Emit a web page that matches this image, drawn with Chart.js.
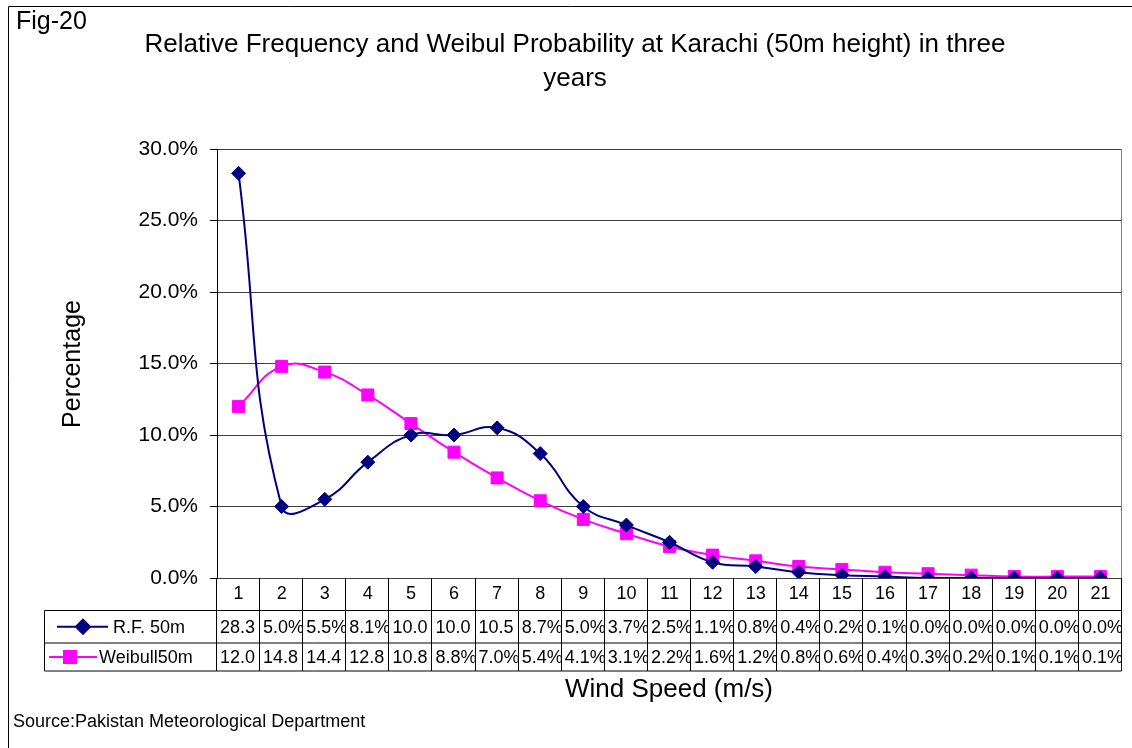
<!DOCTYPE html>
<html>
<head>
<meta charset="utf-8">
<script src="https://cdn.jsdelivr.net/npm/chart.js@4"></script>
<style>
  body { margin: 0; background: #fff; }
  #wrap { width: 1132px; height: 748px; }
</style>
</head>
<body>
<div id="wrap"><canvas id="chart" width="1132" height="748"></canvas></div>
<script>
const speeds = ['1','2','3','4','5','6','7','8','9','10','11','12','13','14','15','16','17','18','19','20','21'];
const rfValues = [28.3, 5.0, 5.5, 8.1, 10.0, 10.0, 10.5, 8.7, 5.0, 3.7, 2.5, 1.1, 0.8, 0.4, 0.2, 0.1, 0.0, 0.0, 0.0, 0.0, 0.0];
const weibullValues = [12.0, 14.8, 14.4, 12.8, 10.8, 8.8, 7.0, 5.4, 4.1, 3.1, 2.2, 1.6, 1.2, 0.8, 0.6, 0.4, 0.3, 0.2, 0.1, 0.1, 0.1];
const seriesNames = ['R.F. 50m', 'Weibull50m'];

const FONT = '"Liberation Sans", Arial, sans-serif';
const NAVY = '#000080';
const MAGENTA = '#FF00FF';

// cell text like Excel's data table: big numbers lose the % sign
function cellText(v) {
    return v >= 10 ? v.toFixed(1) : v.toFixed(1) + '%';
}

const tablePlugin = {
    id: 'dataTable',
    afterDraw(chart) {
        const c = chart.ctx;
        const area = chart.chartArea;
        const xs = chart.scales.x;
        const colW = (area.right - area.left) / speeds.length;
        const rowTop = [area.bottom, 610.5, 643, 671];
        const legendLeft = 44.5;

        c.save();

        // outer frame (left + top visible)
        c.strokeStyle = '#000';
        c.lineWidth = 1;
        c.beginPath();
        c.moveTo(8.5, 760); c.lineTo(8.5, 6.5); c.lineTo(1140, 6.5);
        c.stroke();

        // plot area right border
        c.strokeStyle = '#808080';
        c.beginPath();
        c.moveTo(Math.round(area.right) - 0.5, area.top);
        c.lineTo(Math.round(area.right) - 0.5, area.bottom);
        c.stroke();

        // table grid
        c.strokeStyle = '#000';
        c.beginPath();
        for (let i = 0; i <= speeds.length; i++) {
            const x = Math.round(area.left + i * colW) - 0.5;
            c.moveTo(x, rowTop[0]);
            c.lineTo(x, rowTop[3]);
        }
        c.moveTo(legendLeft, rowTop[1]); c.lineTo(legendLeft, rowTop[3]);
        for (let r = 1; r < rowTop.length; r++) {
            c.moveTo(legendLeft, rowTop[r]);
            c.lineTo(Math.round(area.right) - 0.5, rowTop[r]);
        }
        c.stroke();

        // header row
        c.fillStyle = '#000';
        c.font = '18px ' + FONT;
        c.textAlign = 'center';
        c.textBaseline = 'middle';
        speeds.forEach((s, i) => {
            c.fillText(s, xs.getPixelForValue(i), (rowTop[0] + rowTop[1]) / 2);
        });

        // value rows, clipped to their cells
        const rows = [rfValues, weibullValues];
        c.textAlign = 'left';
        rows.forEach((vals, r) => {
            const yMid = (rowTop[r + 1] + rowTop[r + 2]) / 2 + 1;
            vals.forEach((v, i) => {
                const x0 = area.left + i * colW;
                c.save();
                c.beginPath();
                c.rect(x0, rowTop[r + 1], colW - 1, rowTop[r + 2] - rowTop[r + 1]);
                c.clip();
                c.fillText(cellText(v), x0 + 3, yMid);
                c.restore();
            });
        });

        // legend keys in the table
        const keys = [
            { y: (rowTop[1] + rowTop[2]) / 2, x1: 57, x2: 108, mx: 83, tx: 113, color: NAVY, style: 'rectRot', radius: 7 },
            { y: (rowTop[2] + rowTop[3]) / 2, x1: 49, x2: 97, mx: 70, tx: 99, color: MAGENTA, style: 'rect', radius: 8.5 }
        ];
        keys.forEach((k, i) => {
            c.strokeStyle = k.color;
            c.lineWidth = 2;
            c.beginPath();
            c.moveTo(k.x1, k.y); c.lineTo(k.x2, k.y);
            c.stroke();
            c.fillStyle = k.color;
            Chart.helpers.drawPoint(c, { pointStyle: k.style, radius: k.radius, rotation: 0, borderWidth: 1 }, k.mx, k.y);
            c.fill();
            c.fillStyle = '#000';
            c.font = '18px ' + FONT;
            c.textAlign = 'left';
            c.fillText(seriesNames[i], k.tx, k.y + 1);
        });

        // titles
        c.fillStyle = '#000';
        c.textBaseline = 'middle';
        c.textAlign = 'left';
        c.font = '25px ' + FONT;
        c.fillText('Fig-20', 16, 22);
        c.textAlign = 'center';
        c.font = '26px ' + FONT;
        c.fillText('Relative Frequency and Weibul Probability at Karachi (50m height) in three', 575, 45);
        c.fillText('years', 575, 79);
        c.font = '26px ' + FONT;
        c.fillText('Wind Speed (m/s)', 669, 690);
        c.textAlign = 'left';
        c.font = '18px ' + FONT;
        c.fillText('Source:Pakistan Meteorological Department', 13, 722);
        c.save();
        c.translate(73, 364);
        c.rotate(-Math.PI / 2);
        c.textAlign = 'center';
        c.font = '25px ' + FONT;
        c.fillText('Percentage', 0, 0);
        c.restore();

        c.restore();
    }
};

new Chart(document.getElementById('chart'), {
    type: 'line',
    data: {
        labels: speeds,
        datasets: [
            {
                label: seriesNames[0],
                data: rfValues,
                borderColor: NAVY,
                backgroundColor: NAVY,
                borderWidth: 2,
                pointStyle: 'rectRot',
                pointRadius: 7,
                pointBorderWidth: 1,
                tension: 0.45
            },
            {
                label: seriesNames[1],
                data: weibullValues,
                borderColor: MAGENTA,
                backgroundColor: MAGENTA,
                borderWidth: 2,
                pointStyle: 'rect',
                pointRadius: 8.5,
                pointBorderWidth: 1,
                tension: 0.45
            }
        ]
    },
    options: {
        responsive: false,
        animation: false,
        devicePixelRatio: 1,
        layout: { padding: { top: 149, bottom: 170, left: 0, right: 10 } },
        plugins: {
            legend: { display: false },
            tooltip: { enabled: false }
        },
        scales: {
            x: {
                display: false,
                offset: true
            },
            y: {
                min: 0,
                max: 30,
                afterFit(scale) { scale.width = 217; },
                ticks: {
                    stepSize: 5,
                    padding: 12,
                    color: '#000',
                    font: { family: FONT, size: 21 },
                    callback: v => v.toFixed(1) + '%'
                },
                grid: {
                    color: '#404040',
                    tickLength: 7,
                    tickColor: '#000'
                },
                border: { color: '#000', width: 1 }
            }
        }
    },
    plugins: [tablePlugin]
});
</script>
</body>
</html>
